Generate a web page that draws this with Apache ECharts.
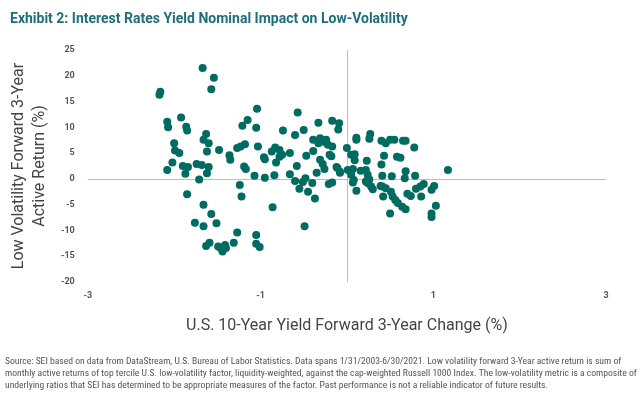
<!DOCTYPE html>
<html>
<head>
<meta charset="utf-8">
<script src="https://cdn.jsdelivr.net/npm/echarts@6/dist/echarts.min.js"></script>
<style>
html,body{margin:0;padding:0;background:#fff;}
#c{width:640px;height:403px;}
</style>
</head>
<body>
<div id="c"></div>
<script>
const titleText = 'Exhibit 2: Interest Rates Yield Nominal Impact on Low-Volatility';
const xAxisTitle = 'U.S. 10-Year Yield Forward 3-Year Change (%)';
const yAxisTitle = 'Low Volatility Forward 3-Year\nActive Return (%)';
const footnote = [
  'Source: SEI based on data from DataStream, U.S. Bureau of Labor Statistics. Data spans 1/31/2003-6/30/2021. Low volatility forward 3-Year active return is sum of',
  'monthly active returns of top tercile U.S. low-volatility factor, liquidity-weighted, against the cap-weighted Russell 1000 Index. The low-volatility metric is a composite of',
  'underlying ratios that SEI has determined to be appropriate measures of the factor. Past performance is not a reliable indicator of future results.'
];
const xTickLabels = [-3, -1, 1, 3];
const yTickLabels = [-20, -15, -10, -5, 0, 5, 10, 15, 20, 25];

// yield change (x) values
const yieldChange = [
  -1.67,-1.54,-1.57,-2.16,-2.17,-2.08,-2.07,-1.92,-1.86,-1.85,-2.00,-1.99,-1.94,-2.02,-2.08,-1.90,-1.84,-1.87,-1.85,-1.71,
  -1.74,-1.68,-1.60,-1.62,-1.63,-1.66,-1.60,-1.62,-1.48,-1.36,-1.35,-1.24,-1.22,-1.27,-1.23,-1.18,-1.21,-1.15,-1.04,-1.05,
  -1.03,-1.19,-1.17,-1.07,-0.95,-0.96,-0.95,-0.84,-0.82,-0.87,-0.83,-0.78,-0.75,-0.78,-0.74,-0.66,-0.66,-0.60,-0.55,-0.58,
  -0.60,-0.57,-0.50,-0.47,-0.48,-0.51,-0.45,-0.40,-0.37,-0.35,-0.39,-0.39,-0.33,-0.31,-0.27,-0.24,-0.22,-0.17,-0.33,-0.31,
  -0.28,-0.26,-0.20,-0.18,-0.17,-0.09,-0.10,-0.12,-0.08,-0.21,-0.17,0.00,0.01,0.05,
  -1.66,-1.57,-1.76,-1.66,-1.51,-1.27,-1.31,-1.05,-1.05,-1.01,-1.59,-1.63,-1.49,-1.44,-1.41,-1.40,-1.46,-0.86,-0.49,
  0.09,0.09,0.11,0.11,0.23,0.27,0.26,0.40,0.45,0.50,0.55,0.65,0.68,0.43,0.40,0.58,0.62,0.78,1.17,0.68,
  0.67,0.79,0.41,0.52,-0.11,-0.08,0.07,0.05,0.08,0.16,0.22,0.24,0.26,0.22,0.11,0.28,0.30,0.24,0.41,0.45,
  0.51,0.42,0.39,0.53,0.56,0.59,0.64,0.68,0.50,0.70,0.74,0.80,0.85,0.89,0.98,1.01,0.86,1.03,0.98,0.98,0.07
];
// low-volatility forward 3-year active return (y) values
const activeReturn = [
  21.5,19.6,17.4,16.9,16.3,11.1,10.0,11.9,10.1,9.4,6.9,5.5,5.0,3.2,1.7,2.5,2.3,1.0,-3.0,-0.1,
  2.9,2.7,2.3,1.1,8.7,7.6,6.9,5.3,5.6,4.6,3.7,-1.2,-3.4,6.0,6.3,6.7,10.3,11.4,13.6,9.9,
  6.3,2.4,1.9,0.6,0.2,4.2,3.8,0.7,3.2,5.3,6.1,5.6,4.7,4.3,9.4,5.0,0.9,-0.4,-1.9,2.5,
  8.5,12.9,9.5,4.5,0.1,-0.6,-2.5,-0.8,-3.8,1.2,5.4,7.6,6.9,7.9,7.2,7.6,6.6,6.3,10.9,3.7,
  2.9,1.9,4.7,4.4,11.3,10.8,9.6,2.3,1.4,-1.0,-0.7,6.0,1.7,4.7,
  -5.0,-6.8,-8.5,-9.2,-8.6,-10.4,-12.4,-10.9,-12.6,-13.2,-12.4,-13.0,-13.1,-14.1,-12.8,-13.4,-13.4,-5.5,-9.2,
  4.8,3.6,7.6,8.0,3.5,8.7,7.8,7.4,6.9,7.6,7.6,7.4,7.4,4.5,2.8,4.3,4.1,6.1,1.7,1.5,
  0.1,0.6,0.6,0.5,2.1,1.2,1.9,0.8,-0.2,1.6,1.7,0.8,-0.1,-0.5,-2.3,-1.5,-2.0,-0.8,-1.5,-1.8,
  -2.5,-3.4,-1.4,-3.4,-4.1,-4.7,-5.4,-5.9,-6.7,-2.9,-3.3,-1.9,-1.5,-1.0,-2.1,-1.4,-3.4,-5.2,-6.7,-7.4,-0.7
];

const points = yieldChange.map((x, i) => [x, activeReturn[i]]);

const chart = echarts.init(document.getElementById('c'), null, {renderer: 'canvas'});
const labelFont = 'Roboto, "Liberation Sans", sans-serif';
chart.setOption({
  animation: false,
  backgroundColor: '#ffffff',
  title: {
    text: titleText,
    left: 5,
    top: 7,
    textStyle: {color: '#1d6f7b', fontSize: 14, fontWeight: 'bold', fontFamily: labelFont}
  },
  grid: {left: 81, right: 34, top: 50, bottom: 121, containLabel: false},
  xAxis: {
    type: 'value',
    min: -3, max: 3, interval: 1,
    axisLine: {show: false},
    axisTick: {show: false},
    splitLine: {show: false},
    axisLabel: {
      margin: 9,
      color: '#555555', fontSize: 9, fontWeight: 'bold', fontFamily: labelFont,
      formatter: v => xTickLabels.indexOf(v) >= 0 ? String(v) : ''
    },
    name: xAxisTitle,
    nameLocation: 'middle',
    nameGap: 36,
    nameTextStyle: {color: '#444444', fontSize: 16, fontFamily: labelFont}
  },
  yAxis: {
    type: 'value',
    min: -20, max: 25, interval: 5,
    axisLine: {show: false},
    axisTick: {show: false},
    splitLine: {show: false},
    axisLabel: {
      margin: 13,
      color: '#555555', fontSize: 9, fontWeight: 'bold', fontFamily: labelFont,
      formatter: v => yTickLabels.indexOf(v) >= 0 ? String(v) : ''
    },
    name: yAxisTitle,
    nameLocation: 'middle',
    nameRotate: 90,
    nameGap: 35,
    nameTextStyle: {color: '#444444', fontSize: 16, lineHeight: 21, fontFamily: labelFont, align: 'center'}
  },
  graphic: footnote.map((t, i) => ({
    type: 'text',
    left: 5,
    top: 357 + i * 12,
    style: {text: t, fill: '#555555', font: '9.6px "Liberation Sans Narrow", "Roboto Condensed", sans-serif'}
  })),
  series: [{
    type: 'scatter',
    data: points,
    symbolSize: 8,
    itemStyle: {color: '#006b60', opacity: 1},
    markLine: {
      silent: true,
      symbol: 'none',
      label: {show: false},
      lineStyle: {color: '#bdbdbd', type: 'solid', width: 1},
      data: [{xAxis: 0}, {yAxis: 0}],
      z: 0
    },
    z: 2
  }]
});
</script>
</body>
</html>
